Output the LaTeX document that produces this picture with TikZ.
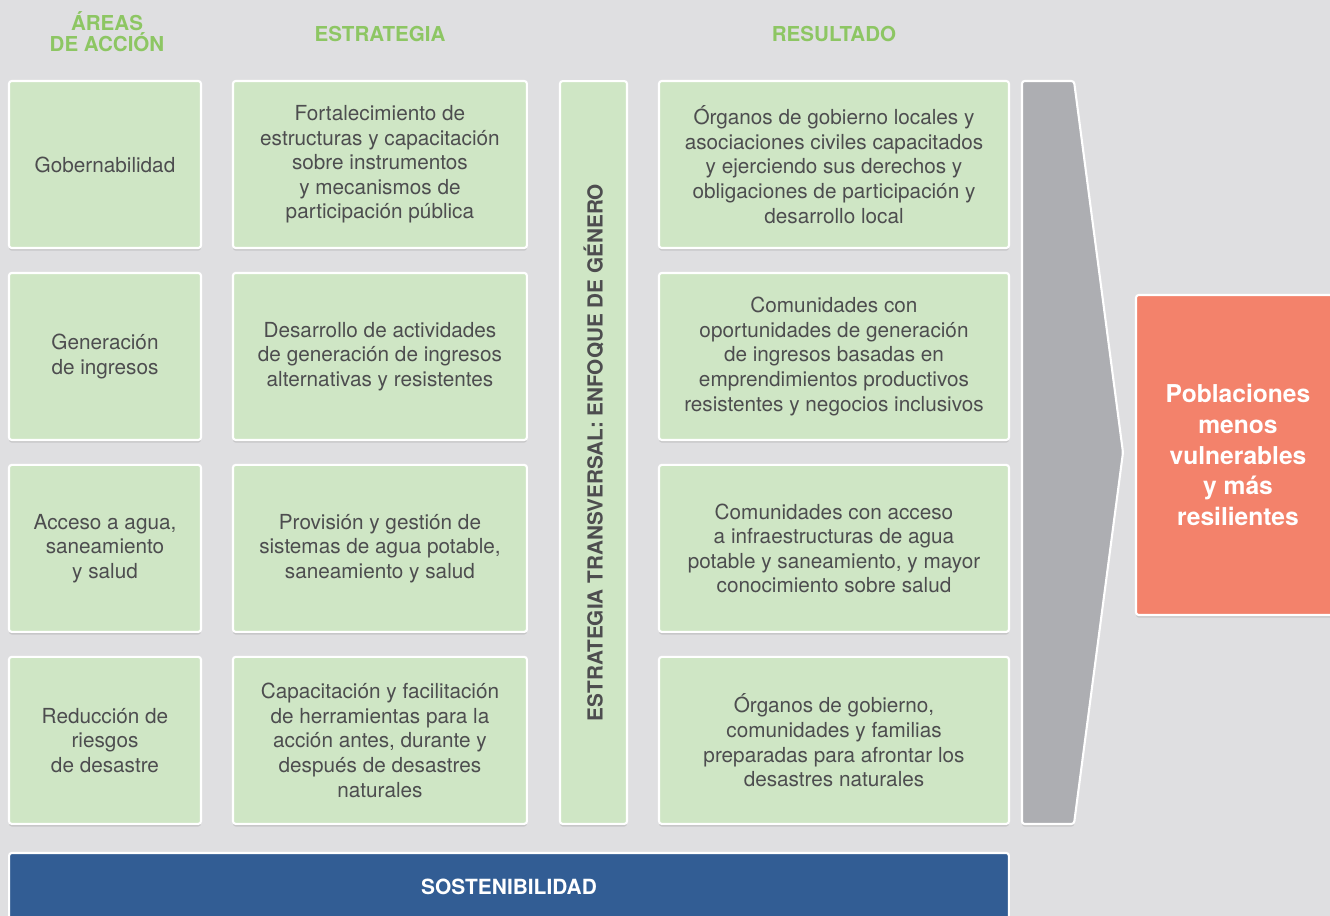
\documentclass[tikz,border=0pt]{standalone}
\usepackage{fontspec}
\setmainfont{TeX Gyre Heros}
\usetikzlibrary{positioning,shadows}

\definecolor{fondo}{RGB}{223,223,225}
\definecolor{verdecaja}{RGB}{207,230,197}
\definecolor{verdetitulo}{RGB}{141,198,99}
\definecolor{textogris}{RGB}{77,77,79}
\definecolor{grisflecha}{RGB}{173,174,178}
\definecolor{salmon}{RGB}{243,130,107}
\definecolor{azulbase}{RGB}{50,93,148}

\tikzset{
  sombra/.style={drop shadow={shadow xshift=0pt, shadow yshift=-1.5pt, opacity=.25}},
  borde/.style={draw=white, line width=1.2pt, rounded corners=1.5pt, sombra},
  caja/.style={borde, fill=verdecaja, text=textogris, align=center, outer sep=0pt,
    font=\fontsize{11.8}{14}\selectfont, minimum height=3.34cm, inner sep=0pt},
  titulo/.style={text=verdetitulo, align=center, font=\bfseries\fontsize{11.7}{12}\selectfont},
}

\begin{document}
\begin{tikzpicture}[x=0.02cm, y=-0.02cm]
  % fondo
  \fill[fondo] (0,0) rectangle (1330,916);
  \useasboundingbox (0,0) rectangle (1330,916);

  % Titulos
  \node[titulo] (tareas) at (107,32) {ÁREAS\\DE ACCIÓN};
  \node[titulo] (testr) at (380,34) {ESTRATEGIA};
  \node[titulo] (tres) at (834,34) {RESULTADO};

  % Areas de accion
  \node[caja, minimum width=3.84cm] (gob) at (105,164.5) {Gobernabilidad};
  \node[caja, minimum width=3.84cm, below=0.5cm of gob] (ingr) {Generación\\de ingresos};
  \node[caja, minimum width=3.84cm, below=0.5cm of ingr] (agua) {Acceso a agua,\\saneamiento\\y salud};
  \node[caja, minimum width=3.84cm, below=0.5cm of agua] (riesgo) {Reducción de\\riesgos\\de desastre};

  % Estrategia
  \node[caja, minimum width=5.88cm, right=0.64cm of gob] (est1)
    {Fortalecimiento de\\estructuras y capacitación\\sobre instrumentos\\y mecanismos de\\participación pública};
  \node[caja, minimum width=5.88cm, right=0.64cm of ingr] (est2)
    {Desarrollo de actividades\\de generación de ingresos\\alternativas y resistentes};
  \node[caja, minimum width=5.88cm, right=0.64cm of agua] (est3)
    {Provisión y gestión de\\sistemas de agua potable,\\saneamiento y salud};
  \node[caja, minimum width=5.88cm, right=0.64cm of riesgo] (est4)
    {Capacitación y facilitación\\de herramientas para la\\acción antes, durante y\\después de desastres\\naturales};

  % Estrategia transversal
  \node[caja, minimum width=1.34cm, minimum height=14.86cm] (genero) at (593.5,452.5) {};
  \node[rotate=90, text=textogris, font=\bfseries\fontsize{11.8}{13}\selectfont] (tgenero) at (genero.center)
    {ESTRATEGIA TRANSVERSAL: ENFOQUE DE GÉNERO};

  % Resultado
  \node[caja, minimum width=7cm] (res1) at (834,164.5)
    {Órganos de gobierno locales y\\asociaciones civiles capacitados\\y ejerciendo sus derechos y\\obligaciones de participación y\\desarrollo local};
  \node[caja, minimum width=7cm, below=0.5cm of res1] (res2)
    {Comunidades con\\oportunidades de generación\\de ingresos basadas en\\emprendimientos productivos\\resistentes y negocios inclusivos};
  \node[caja, minimum width=7cm, below=0.5cm of res2] (res3)
    {Comunidades con acceso\\a infraestructuras de agua\\potable y saneamiento, y mayor\\conocimiento sobre salud};
  \node[caja, minimum width=7cm, below=0.5cm of res3] (res4)
    {Órganos de gobierno,\\comunidades y familias\\preparadas para afrontar los\\desastres naturales};

  % Flecha gris
  \coordinate (fa) at (1022,81);
  \coordinate (fb) at (1074,81);
  \coordinate (fpunta) at (1123,452.5);
  \coordinate (fc) at (1074,824);
  \coordinate (fd) at (1022,824);
  \filldraw[borde, fill=grisflecha] (fa) -- (fb) -- (fpunta) -- (fc) -- (fd) -- cycle;

  % Meta
  \node[borde, fill=salmon, text=white, align=center, minimum width=4.08cm, minimum height=6.4cm,
    font=\bfseries\fontsize{14}{17.5}\selectfont] (pob) at (1238,455)
    {Poblaciones\\menos\\vulnerables\\y más\\resilientes};

  % Sostenibilidad
  \node[borde, fill=azulbase, text=white, minimum width=20cm, minimum height=1.36cm,
    font=\bfseries\fontsize{11.9}{12}\selectfont] (sost) at (509,887) {SOSTENIBILIDAD};
\end{tikzpicture}
\end{document}
